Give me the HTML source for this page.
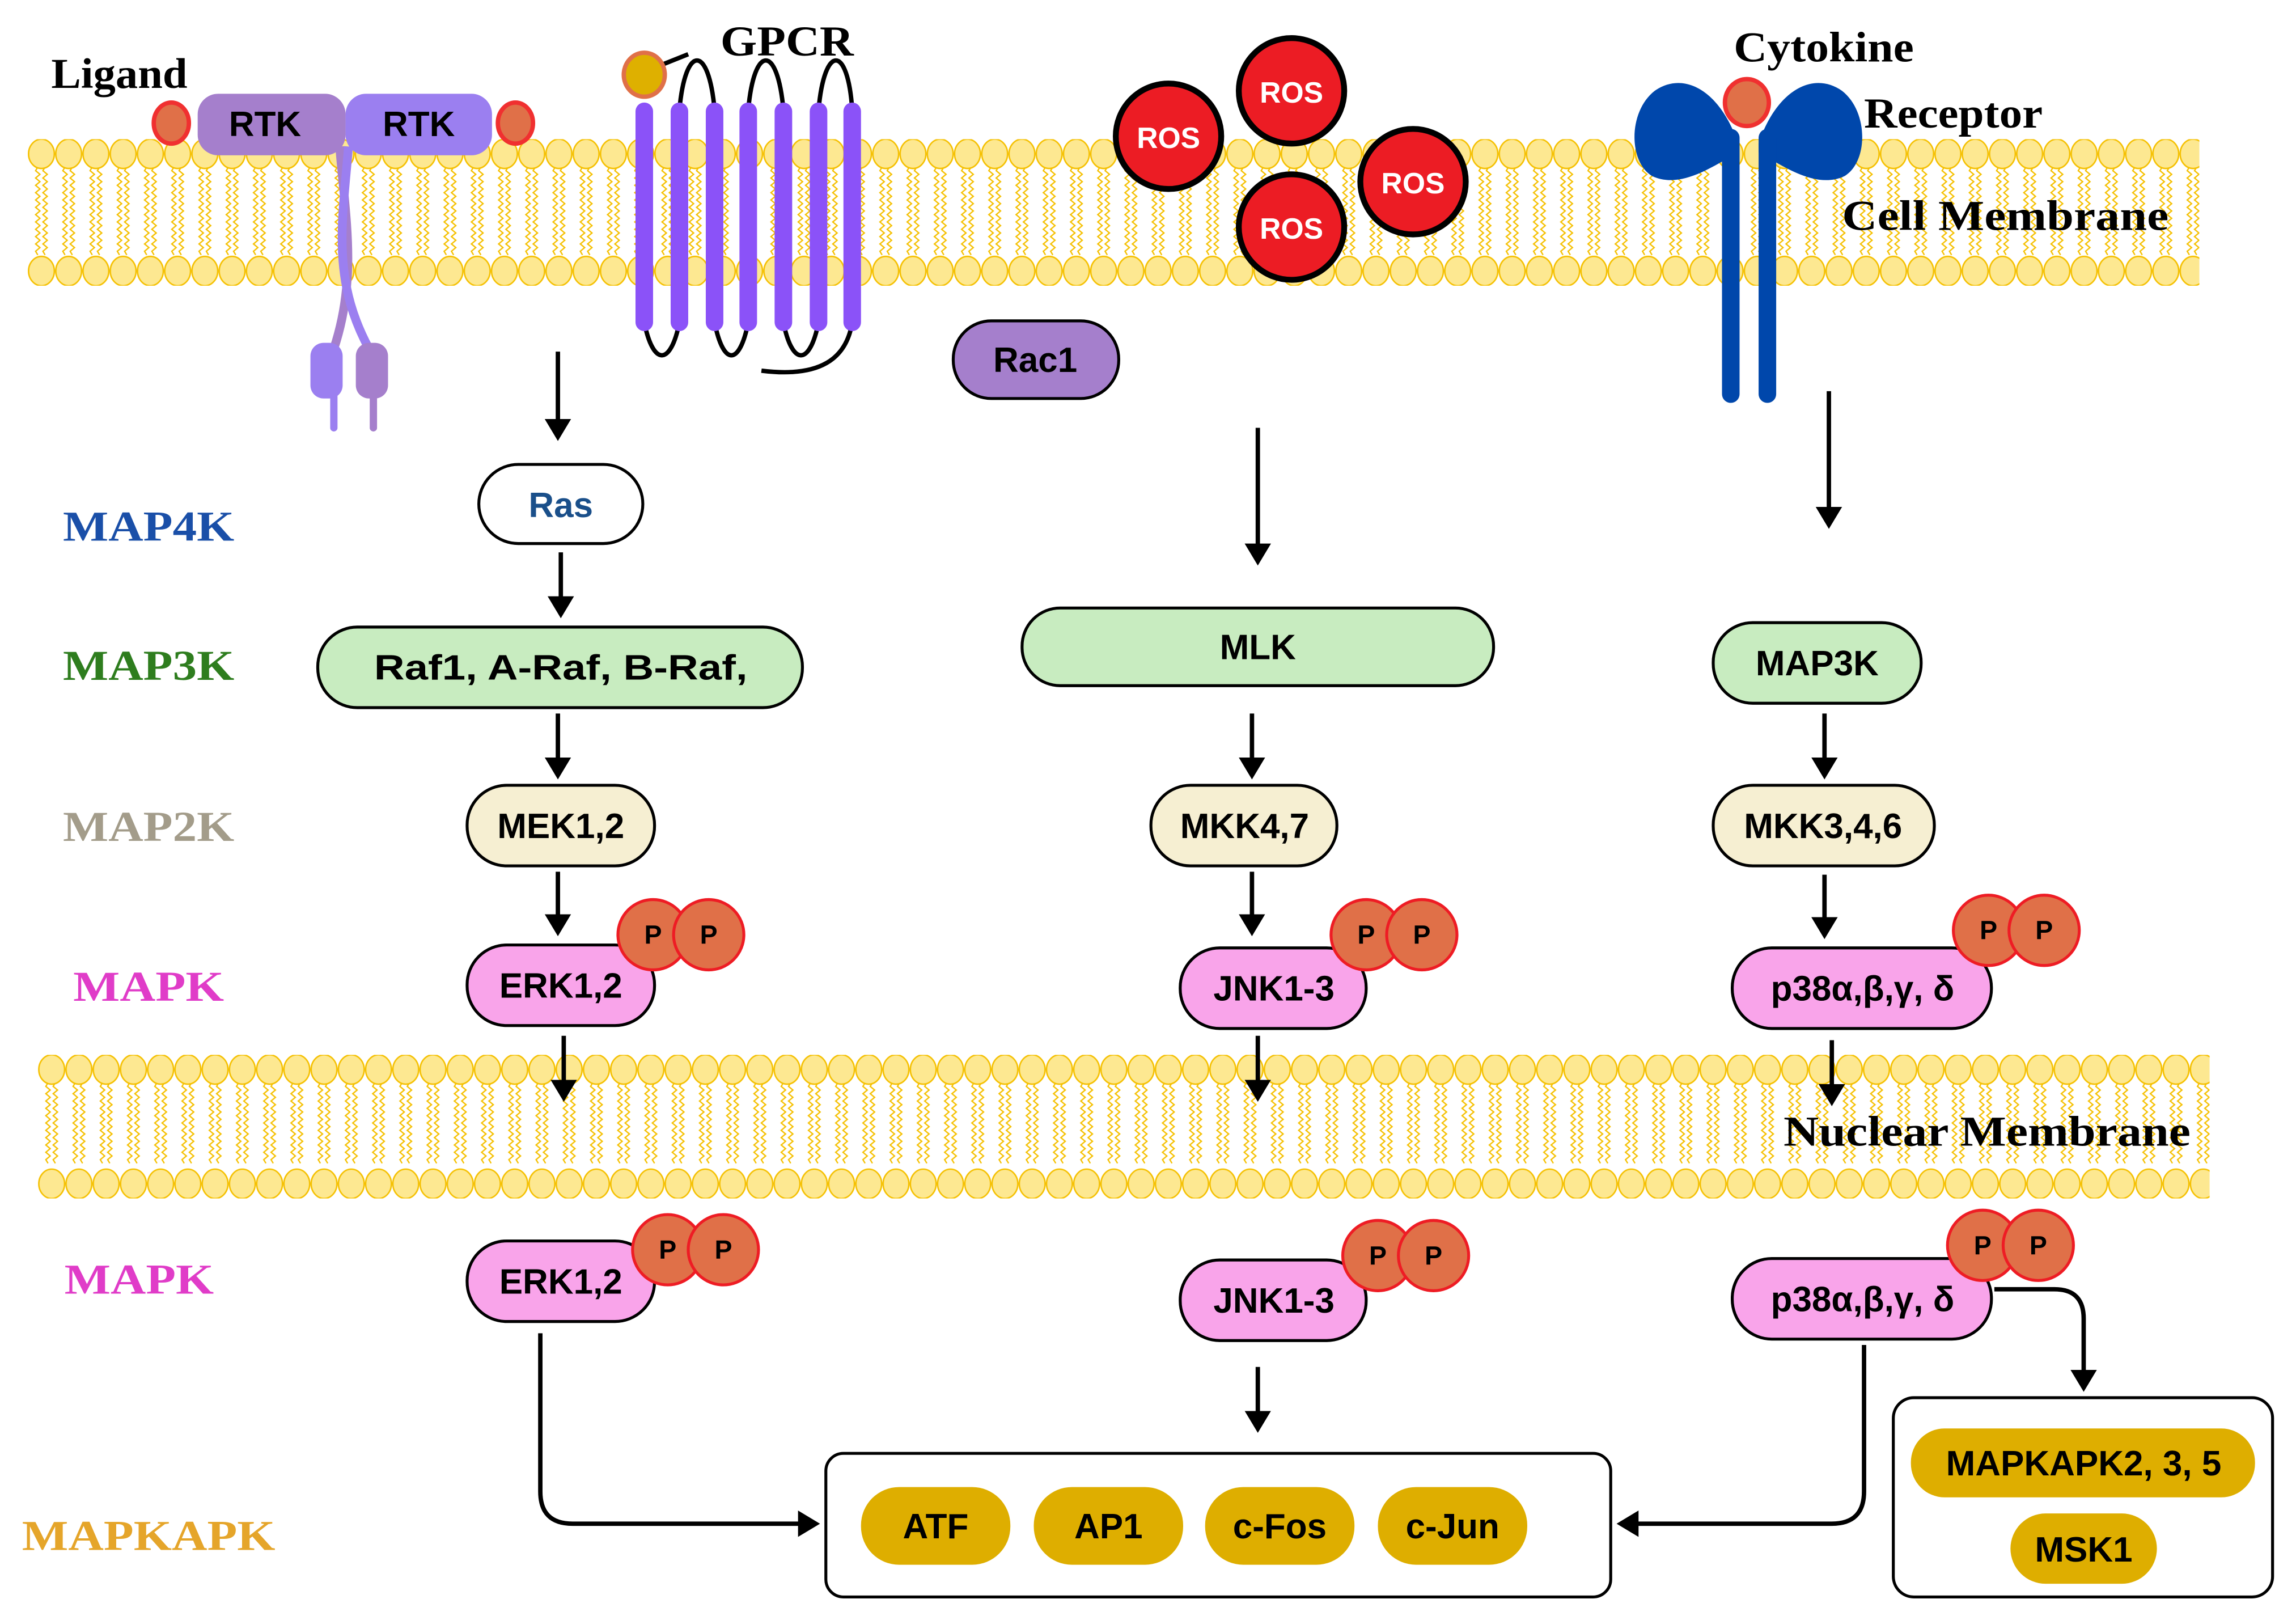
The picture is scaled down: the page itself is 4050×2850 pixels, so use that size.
<!DOCTYPE html>
<html><head><meta charset="utf-8"><style>
html,body{margin:0;padding:0;background:#fff;}
svg{display:block;}
.lbl{font-family:"Liberation Serif",serif;font-weight:bold;}
.nd{font-family:"Liberation Sans",sans-serif;font-weight:bold;font-size:24px;text-anchor:middle;dominant-baseline:central;}
</style></head><body>
<svg width="4050" height="2850" viewBox="0 0 1568 1103" preserveAspectRatio="none" xmlns="http://www.w3.org/2000/svg">
<defs>
<pattern id="mem1" patternUnits="userSpaceOnUse" x="19" y="95" width="18.6" height="100">
 <path d="M6.8 19 l-1.5 2.5 l3 2.5 l-3 2.5 l3 2.5 l-3 2.5 l3 2.5 l-3 2.5 l3 2.5 l-3 2.5 l3 2.5 l-3 2.5 l3 2.5 l-3 2.5 l3 2.5 l-3 2.5 l3 2.5 l-3 2.5 l3 2.5 l-3 2.5 l3 2.5 l-3 2.5 l3 2.5 l-3 2.5 l1.5 2.5 M11.8 19 l-1.5 2.5 l3 2.5 l-3 2.5 l3 2.5 l-3 2.5 l3 2.5 l-3 2.5 l3 2.5 l-3 2.5 l3 2.5 l-3 2.5 l3 2.5 l-3 2.5 l3 2.5 l-3 2.5 l3 2.5 l-3 2.5 l3 2.5 l-3 2.5 l3 2.5 l-3 2.5 l3 2.5 l-3 2.5 l1.5 2.5" fill="none" stroke="#f5c000" stroke-width="0.9"/>
 <ellipse cx="9.3" cy="10" rx="8.8" ry="10" fill="#fde891" stroke="#f5c000" stroke-width="1"/>
 <ellipse cx="9.3" cy="90" rx="8.8" ry="10" fill="#fde891" stroke="#f5c000" stroke-width="1"/>
</pattern>
<pattern id="mem2" patternUnits="userSpaceOnUse" x="26" y="720" width="18.6" height="98">
 <path d="M6.8 19 l-1.5 2.5 l3 2.5 l-3 2.5 l3 2.5 l-3 2.5 l3 2.5 l-3 2.5 l3 2.5 l-3 2.5 l3 2.5 l-3 2.5 l3 2.5 l-3 2.5 l3 2.5 l-3 2.5 l3 2.5 l-3 2.5 l3 2.5 l-3 2.5 l3 2.5 l-3 2.5 l1.5 2.5 M11.8 19 l-1.5 2.5 l3 2.5 l-3 2.5 l3 2.5 l-3 2.5 l3 2.5 l-3 2.5 l3 2.5 l-3 2.5 l3 2.5 l-3 2.5 l3 2.5 l-3 2.5 l3 2.5 l-3 2.5 l3 2.5 l-3 2.5 l3 2.5 l-3 2.5 l3 2.5 l-3 2.5 l1.5 2.5" fill="none" stroke="#f5c000" stroke-width="0.9"/>
 <ellipse cx="9.3" cy="10" rx="8.8" ry="10" fill="#fde891" stroke="#f5c000" stroke-width="1"/>
 <ellipse cx="9.3" cy="88" rx="8.8" ry="10" fill="#fde891" stroke="#f5c000" stroke-width="1"/>
</pattern>
<marker id="ah" markerWidth="6" markerHeight="6" refX="4" refY="3" orient="auto" markerUnits="strokeWidth">
 <path d="M0 0 L5 3 L0 6 z" fill="#000"/>
</marker>
</defs>

<rect x="19" y="95" width="1483" height="100" fill="url(#mem1)"/>
<rect x="26" y="720" width="1483" height="98" fill="url(#mem2)"/>

<!-- RTK -->
<path d="M232 100 C236 150 244 190 228 238" stroke="#a57fcc" stroke-width="6" fill="none"/>
<path d="M238 100 C234 150 226 190 252 238" stroke="#9b7ff0" stroke-width="6" fill="none"/>
<rect x="212" y="234" width="22" height="38" rx="9" fill="#9b7ff0"/>
<rect x="243" y="234" width="22" height="38" rx="9" fill="#a57fcc"/>
<line x1="228" y1="270" x2="228" y2="292" stroke="#9b7ff0" stroke-width="5" stroke-linecap="round"/>
<line x1="255" y1="270" x2="255" y2="292" stroke="#a57fcc" stroke-width="5" stroke-linecap="round"/>
<rect x="135" y="64" width="101" height="42" rx="14" fill="#a57fcc"/>
<rect x="236" y="64" width="100" height="42" rx="14" fill="#9b7ff0"/>
<text class="nd" x="181" y="85">RTK</text>
<text class="nd" x="286" y="85">RTK</text>
<ellipse cx="117" cy="84" rx="12" ry="14" fill="#e07048" stroke="#f03030" stroke-width="3"/>
<ellipse cx="352" cy="84" rx="12" ry="14" fill="#e07048" stroke="#f03030" stroke-width="3"/>
<text class="lbl" x="35" y="60" font-size="29" textLength="93" lengthAdjust="spacingAndGlyphs">Ligand</text>

<!-- GPCR -->
<g fill="none" stroke="#000" stroke-width="3">
<path d="M464 75 C468 30 484 30 488 75"/>
<path d="M511 75 C515 30 531 30 535 75"/>
<path d="M559 75 C563 30 579 30 582 75"/>
<path d="M440 220 C446 250 458 250 464 220"/>
<path d="M488 220 C494 250 505 250 511 220"/>
<path d="M535 220 C541 250 553 250 559 220"/>
<path d="M582 220 C578 245 560 258 520 253"/>
<path d="M450 45 L470 37"/>
</g>
<g fill="#8b52f8">
<rect x="434" y="70" width="12" height="156" rx="6"/>
<rect x="458" y="70" width="12" height="156" rx="6"/>
<rect x="482" y="70" width="12" height="156" rx="6"/>
<rect x="505" y="70" width="12" height="156" rx="6"/>
<rect x="529" y="70" width="12" height="156" rx="6"/>
<rect x="553" y="70" width="12" height="156" rx="6"/>
<rect x="576" y="70" width="12" height="156" rx="6"/>
</g>
<ellipse cx="440" cy="51" rx="14" ry="15" fill="#deb000" stroke="#e07048" stroke-width="3"/>
<text class="lbl" x="492" y="38" font-size="29" textLength="91" lengthAdjust="spacingAndGlyphs">GPCR</text>

<!-- ROS -->
<g stroke="#000" stroke-width="4" fill="#ec1c24">
<circle cx="798" cy="93" r="36"/>
<circle cx="882" cy="62" r="36"/>
<circle cx="965" cy="124" r="36"/>
<circle cx="882" cy="155" r="36"/>
</g>
<g class="nd" fill="#fff">
<text x="798" y="94" font-size="20">ROS</text>
<text x="882" y="63" font-size="20">ROS</text>
<text x="965" y="125" font-size="20">ROS</text>
<text x="882" y="156" font-size="20">ROS</text>
</g>

<rect x="651" y="219" width="113" height="53" rx="26" fill="#a57fcc" stroke="#000" stroke-width="2"/>
<text class="nd" x="707" y="246">Rac1</text>

<!-- Cytokine receptor -->
<g fill="#0047ab">
<path d="M1187 98 C1175 62 1150 48 1130 62 C1112 76 1112 110 1128 120 C1148 130 1172 112 1187 104 z"/>
<path d="M1201 98 C1213 62 1238 48 1258 62 C1276 76 1276 110 1260 120 C1240 130 1216 112 1201 104 z"/>
<rect x="1176" y="88" width="12" height="187" rx="6"/>
<rect x="1201" y="88" width="12" height="187" rx="6"/>
</g>
<ellipse cx="1193" cy="70" rx="15" ry="16" fill="#e07048" stroke="#f03030" stroke-width="3"/>
<text class="lbl" x="1184" y="42" font-size="29" textLength="123" lengthAdjust="spacingAndGlyphs">Cytokine</text>
<text class="lbl" x="1273" y="87" font-size="29" textLength="122" lengthAdjust="spacingAndGlyphs">Receptor</text>
<text class="lbl" x="1258" y="157" font-size="29" textLength="223" lengthAdjust="spacingAndGlyphs">Cell Membrane</text>
<text class="lbl" x="1218" y="782" font-size="29" textLength="278" lengthAdjust="spacingAndGlyphs">Nuclear Membrane</text>

<text class="lbl" x="43" y="369" font-size="29" fill="#1a4fa8" textLength="117" lengthAdjust="spacingAndGlyphs">MAP4K</text>
<text class="lbl" x="43" y="464" font-size="29" fill="#2e7d1e" textLength="117" lengthAdjust="spacingAndGlyphs">MAP3K</text>
<text class="lbl" x="43" y="574" font-size="29" fill="#a39c8a" textLength="117" lengthAdjust="spacingAndGlyphs">MAP2K</text>
<text class="lbl" x="50" y="683" font-size="29" fill="#e03cc8" textLength="103" lengthAdjust="spacingAndGlyphs">MAPK</text>
<text class="lbl" x="44" y="883" font-size="29" fill="#e03cc8" textLength="102" lengthAdjust="spacingAndGlyphs">MAPK</text>
<text class="lbl" x="15" y="1058" font-size="29" fill="#e5a52a" textLength="173" lengthAdjust="spacingAndGlyphs">MAPKAPK</text>

<g stroke="#000" stroke-width="3" fill="none" marker-end="url(#ah)">
<line x1="381" y1="240" x2="381" y2="298"/>
<line x1="383" y1="377" x2="383" y2="419"/>
<line x1="381" y1="487" x2="381" y2="529"/>
<line x1="381" y1="595" x2="381" y2="636"/>
<line x1="385" y1="707" x2="385" y2="749"/>
<line x1="859" y1="292" x2="859" y2="383"/>
<line x1="855" y1="487" x2="855" y2="529"/>
<line x1="855" y1="595" x2="855" y2="636"/>
<line x1="859" y1="707" x2="859" y2="749"/>
<line x1="1249" y1="267" x2="1249" y2="358"/>
<line x1="1246" y1="487" x2="1246" y2="529"/>
<line x1="1246" y1="597" x2="1246" y2="638"/>
<line x1="1251" y1="710" x2="1251" y2="752"/>
<line x1="859" y1="933" x2="859" y2="975"/>
<path d="M369 910 L369 1018 Q369 1040 391 1040 L557 1040"/>
<path d="M1273 918 L1273 1018 Q1273 1040 1251 1040 L1107 1040"/>
<path d="M1362 880 L1403 880 Q1423 880 1423 900 L1423 947"/>
</g>

<g stroke="#000" stroke-width="2">
<rect x="327" y="317" width="112" height="54" rx="27" fill="#fff"/>
<rect x="217" y="428" width="331" height="55" rx="27" fill="#c8ecc0"/>
<rect x="319" y="536" width="128" height="55" rx="27" fill="#f6efd2"/>
<rect x="319" y="645" width="128" height="55" rx="27" fill="#f9a4ea"/>
<rect x="698" y="415" width="322" height="53" rx="26" fill="#c8ecc0"/>
<rect x="786" y="536" width="127" height="55" rx="27" fill="#f6efd2"/>
<rect x="806" y="647" width="127" height="55" rx="27" fill="#f9a4ea"/>
<rect x="1170" y="425" width="142" height="55" rx="27" fill="#c8ecc0"/>
<rect x="1170" y="536" width="151" height="55" rx="27" fill="#f6efd2"/>
<rect x="1183" y="647" width="177" height="55" rx="27" fill="#f9a4ea"/>
<rect x="319" y="847" width="128" height="55" rx="27" fill="#f9a4ea"/>
<rect x="806" y="860" width="127" height="55" rx="27" fill="#f9a4ea"/>
<rect x="1183" y="859" width="177" height="55" rx="27" fill="#f9a4ea"/>
<rect x="564" y="992" width="536" height="98" rx="12" fill="#fff"/>
<rect x="1293" y="954" width="259" height="136" rx="14" fill="#fff"/>
</g>
<g fill="#deae00">
<rect x="588" y="1015" width="102" height="53" rx="26"/>
<rect x="706" y="1015" width="102" height="53" rx="26"/>
<rect x="823" y="1015" width="102" height="53" rx="26"/>
<rect x="941" y="1015" width="102" height="53" rx="26"/>
<rect x="1305" y="975" width="235" height="47" rx="23"/>
<rect x="1373" y="1033" width="100" height="48" rx="24"/>
</g>
<g fill="#e07048" stroke="#ee1c24" stroke-width="2">
<circle cx="446" cy="638" r="24"/><circle cx="484" cy="638" r="24"/>
<circle cx="933" cy="638" r="24"/><circle cx="971" cy="638" r="24"/>
<circle cx="1358" cy="635" r="24"/><circle cx="1396" cy="635" r="24"/>
<circle cx="456" cy="853" r="24"/><circle cx="494" cy="853" r="24"/>
<circle cx="941" cy="857" r="24"/><circle cx="979" cy="857" r="24"/>
<circle cx="1354" cy="850" r="24"/><circle cx="1392" cy="850" r="24"/>
</g>
<g class="nd">
<text x="446" y="638" font-size="18">P</text><text x="484" y="638" font-size="18">P</text>
<text x="933" y="638" font-size="18">P</text><text x="971" y="638" font-size="18">P</text>
<text x="1358" y="635" font-size="18">P</text><text x="1396" y="635" font-size="18">P</text>
<text x="456" y="853" font-size="18">P</text><text x="494" y="853" font-size="18">P</text>
<text x="941" y="857" font-size="18">P</text><text x="979" y="857" font-size="18">P</text>
<text x="1354" y="850" font-size="18">P</text><text x="1392" y="850" font-size="18">P</text>
</g>
<g class="nd">
<text x="383" y="345" fill="#1a4f8a">Ras</text>
<text x="383" y="456" textLength="255" lengthAdjust="spacingAndGlyphs">Raf1, A-Raf, B-Raf,</text>
<text x="383" y="564">MEK1,2</text>
<text x="383" y="673">ERK1,2</text>
<text x="859" y="442">MLK</text>
<text x="850" y="564">MKK4,7</text>
<text x="870" y="675">JNK1-3</text>
<text x="1241" y="453">MAP3K</text>
<text x="1245" y="564">MKK3,4,6</text>
<text x="1272" y="675">p38α,β,γ, δ</text>
<text x="383" y="875">ERK1,2</text>
<text x="870" y="888">JNK1-3</text>
<text x="1272" y="887">p38α,β,γ, δ</text>
<text x="639" y="1042">ATF</text>
<text x="757" y="1042">AP1</text>
<text x="874" y="1042">c-Fos</text>
<text x="992" y="1042">c-Jun</text>
<text x="1423" y="999">MAPKAPK2, 3, 5</text>
<text x="1423" y="1058">MSK1</text>
</g>
</svg>
</body></html>
